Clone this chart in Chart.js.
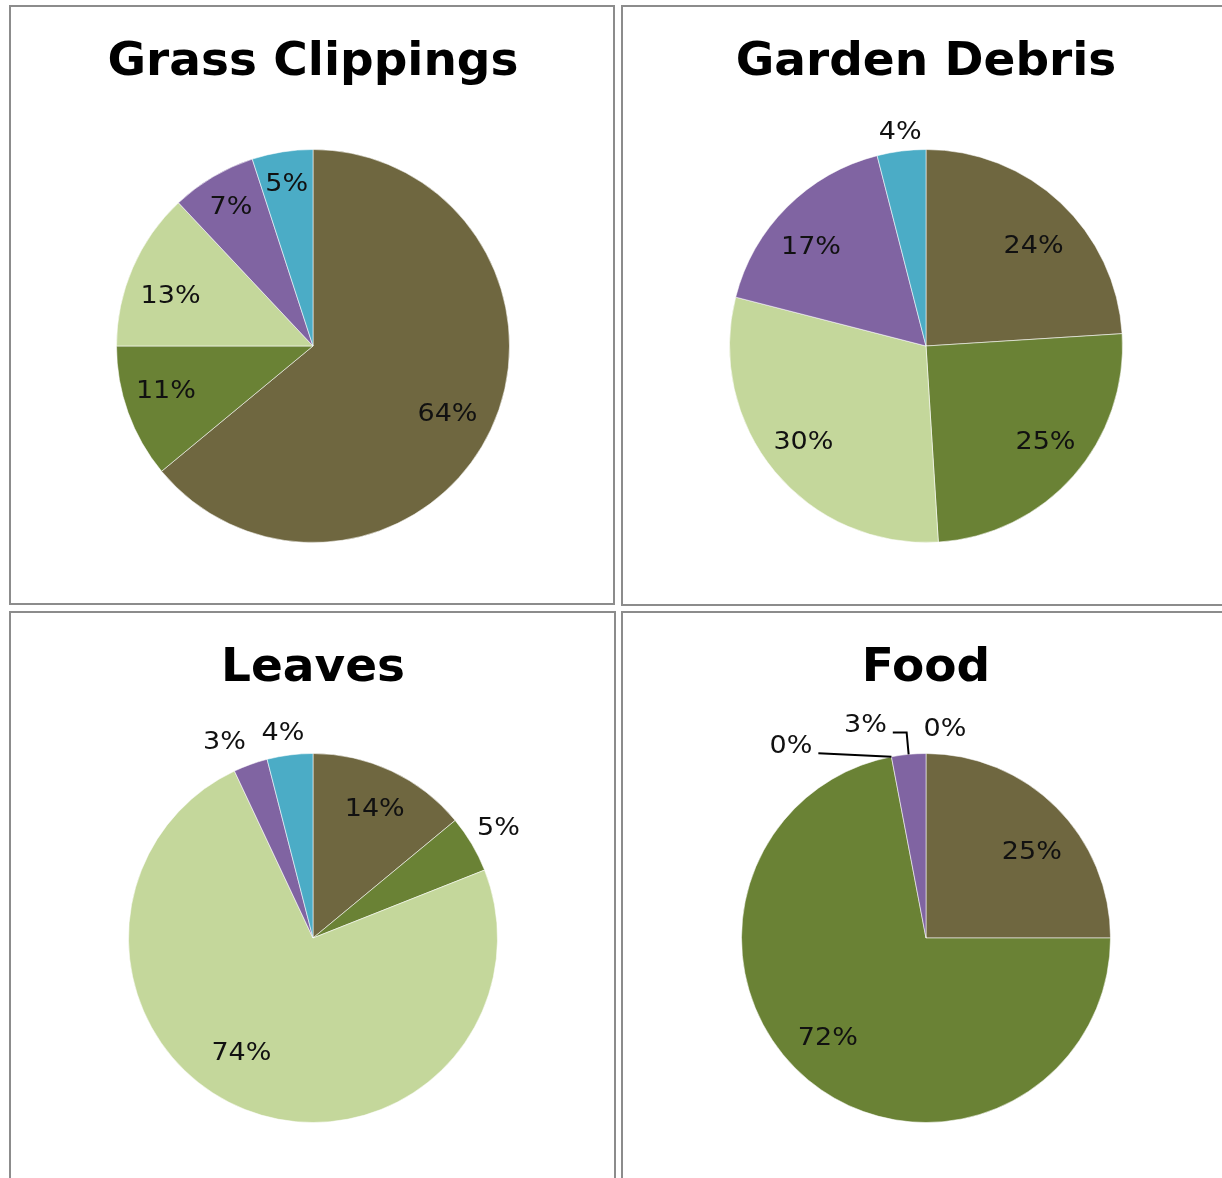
<!DOCTYPE html>
<html>
<head>
<meta charset="utf-8">
<script src="https://cdn.jsdelivr.net/npm/chart.js@4"></script>
<style>
  html, body { margin: 0; padding: 0; background: #fff; overflow: hidden; }
  body { width: 1222px; height: 1178px; position: relative; }
  .panel { position: absolute; border: 2px solid #8c8c8c; box-sizing: border-box; }
  .panel canvas { position: absolute; left: 0; top: 0; }
</style>
</head>
<body>
<div class="panel" style="left:9px;top:5px;width:606px;height:600px"><canvas id="grass" width="602" height="596"></canvas></div>
<div class="panel" style="left:621px;top:5px;width:700px;height:601px"><canvas id="garden" width="600" height="597"></canvas></div>
<div class="panel" style="left:9px;top:611px;width:607px;height:700px"><canvas id="leaves" width="603" height="565"></canvas></div>
<div class="panel" style="left:621px;top:611px;width:700px;height:700px"><canvas id="food" width="600" height="565"></canvas></div>

<script>
// slice order is the same in every pie, clockwise from 12 o'clock
const sliceNames = ["1", "2", "3", "4", "5"];
const sliceColors = ["#6F6740", "#6A8235", "#C4D79B", "#8064A2", "#4BACC6"];

// percent of each material
const grassClippings = [64, 11, 13, 7, 5];
const gardenDebris = [24, 25, 30, 17, 4];
const leaves = [14, 5, 74, 3, 4];
const food = [25, 72, 0, 3, 0];

// percent labels, drawn inside the slice unless listed as outside
const sliceLabels = {
  id: "sliceLabels",
  afterDatasetsDraw(chart, args, opts) {
    const ctx = chart.ctx;
    const meta = chart.getDatasetMeta(0);
    const values = chart.data.datasets[0].data;
    const outside = opts.outside || [];
    const nudge = opts.nudge || {};
    ctx.save();
    ctx.font = "25px 'DejaVu Sans'";
    ctx.fillStyle = "#111";
    ctx.textAlign = "center";
    ctx.textBaseline = "middle";
    meta.data.forEach((arc, i) => {
      const p = arc.getProps(["x", "y", "startAngle", "endAngle", "outerRadius"], true);
      const mid = (p.startAngle + p.endAngle) / 2;
      const isOut = outside.includes(i);
      const f = isOut ? 1.13 : (opts.inside || 0.77);
      const d = nudge[i] || [0, 0];
      const lx = p.x + Math.cos(mid) * p.outerRadius * f + d[0];
      const ly = p.y + Math.sin(mid) * p.outerRadius * f + d[1];
      const text = values[i] + "%";
      ctx.save();
      ctx.translate(lx, ly);
      ctx.scale(1.08, 1);
      ctx.fillText(text, 0, 0);
      ctx.restore();
      if (opts.leaders && opts.leaders.includes(i)) {
        const w = ctx.measureText(text).width * 1.08;
        const ex = p.x + Math.cos(mid) * p.outerRadius;
        const ey = p.y + Math.sin(mid) * p.outerRadius;
        const sx = lx + w / 2 + 6;
        const sy = ly + 7;
        ctx.beginPath();
        ctx.moveTo(sx, sy);
        if (Math.abs(ey - sy) > 10) ctx.lineTo(ex - 2, sy);
        ctx.lineTo(ex, ey);
        ctx.strokeStyle = "#000";
        ctx.lineWidth = 2;
        ctx.stroke();
      }
    });
    ctx.restore();
  }
};

// bold heading above the pie
const pieHeading = {
  id: "pieHeading",
  afterDraw(chart, args, opts) {
    const ctx = chart.ctx;
    const a = chart.chartArea;
    ctx.save();
    ctx.font = "bold 47px 'DejaVu Sans'";
    ctx.fillStyle = "#000";
    ctx.textAlign = "center";
    ctx.textBaseline = "alphabetic";
    ctx.fillText(opts.text, (a.left + a.right) / 2, opts.baseline);
    ctx.restore();
  }
};

function makePie(id, title, values, padding, labelOpts) {
  return new Chart(id, {
    type: "pie",
    data: {
      labels: sliceNames,
      datasets: [{
        data: values,
        backgroundColor: sliceColors,
        borderColor: "rgba(255,255,255,0.55)",
        borderWidth: 1
      }]
    },
    options: {
      responsive: false,
      animation: false,
      layout: { padding: padding },
      plugins: {
        legend: { display: false },
        tooltip: { enabled: false },
        pieHeading: { text: title, baseline: 68 },
        sliceLabels: labelOpts
      }
    },
    plugins: [sliceLabels, pieHeading]
  });
}

makePie("grass", "Grass Clippings", grassClippings,
  { left: 105, right: 103, top: 142, bottom: 60 },
  { outside: [], inside: 0.79,
    nudge: { 0: [-6, 2], 1: [-1, -7], 2: [0, 12], 3: [-3, -5], 4: [-2, -8] } });
makePie("garden", "Garden Debris", gardenDebris,
  { left: 106, right: 100, top: 142, bottom: 61 },
  { outside: [4], inside: 0.77,
    nudge: { 0: [4, 11], 1: [6, -4], 2: [-6, 0], 3: [-8, 8], 4: [2, 7] } });
makePie("leaves", "Leaves", leaves,
  { left: 117, right: 116, top: 140, bottom: 55 },
  { outside: [1, 3, 4], inside: 0.76,
    nudge: { 0: [2, -2], 1: [6, -3], 2: [-20, -15], 3: [-18, 1], 4: [-4, 2] } });
makePie("food", "Food", food,
  { left: 118, right: 112, top: 140, bottom: 55 },
  { outside: [2, 3, 4], inside: 0.75, leaders: [2, 3],
    nudge: { 0: [8, 12], 1: [-10, -6], 2: [-96, 13], 3: [-41, -5], 4: [19, 0] } });
</script>
</body>
</html>
